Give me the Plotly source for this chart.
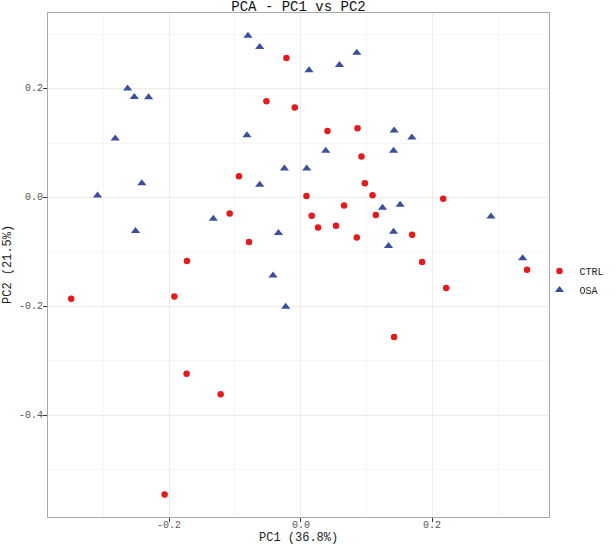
import plotly.graph_objects as go

# PC scores
ctrl_pc1 = [-0.0217, -0.0521, -0.0938, -0.1079, -0.0786, -0.1728, -0.0091, 0.0406,
            0.0862, 0.0922, 0.0973, 0.1090, 0.0087, 0.2163, 0.0658, 0.0167,
            0.1140, 0.0263, 0.0536, 0.0851, 0.1691, 0.1843, 0.3435, -0.3485,
            -0.1919, -0.1733, -0.1216, -0.2067, 0.2208, 0.1418]
ctrl_pc2 = [0.2566, 0.1770, 0.0393, -0.0294, -0.0819, -0.1168, 0.1653, 0.1225,
            0.1275, 0.0753, 0.0264, 0.0044, 0.0026, -0.0024, -0.0147, -0.0336,
            -0.0323, -0.0551, -0.0520, -0.0735, -0.0685, -0.1186, -0.1328, -0.1860,
            -0.1818, -0.3238, -0.3618, -0.5460, -0.1664, -0.2564]

osa_pc1 = [-0.0801, -0.0623, -0.2629, -0.2527, -0.2310, -0.2816, -0.0816, -0.0248,
           -0.2412, -0.0623, -0.3085, -0.1327, -0.2508, -0.0339, -0.0421, -0.0228,
           0.0851, 0.0126, 0.0588, 0.1418, 0.1687, 0.0380, 0.1409, 0.0091,
           0.1242, 0.1509, 0.2888, 0.1409, 0.1333, 0.3369]
osa_pc2 = [0.2975, 0.2768, 0.2002, 0.1849, 0.1844, 0.1084, 0.1146, 0.0533,
           0.0264, 0.0233, 0.0037, -0.0391, -0.0617, -0.0654, -0.1433, -0.2007,
           0.2663, 0.2340, 0.2437, 0.1230, 0.1102, 0.0858, 0.0858, 0.0533,
           -0.0189, -0.0134, -0.0349, -0.0630, -0.0893, -0.1117]

x_ticks = [-0.2, 0.0, 0.2]
x_ticktext = ["-0.2", "0.0", "0.2"]
y_ticks = [-0.4, -0.2, 0.0, 0.2]
y_ticktext = ["-0.4", "-0.2", "0.0", "0.2"]

mono = "Liberation Mono, Courier New, monospace"
tick_font = dict(family=mono, size=10, color="#555555")
title_font = dict(family=mono, size=12, color="#222222")

fig = go.Figure()

fig.add_trace(go.Scatter(
    x=ctrl_pc1, y=ctrl_pc2, mode="markers", name="CTRL",
    marker=dict(symbol="circle", size=6.5, color="#e41a1c"),
))
fig.add_trace(go.Scatter(
    x=osa_pc1, y=osa_pc2, mode="markers", name="OSA",
    marker=dict(symbol="triangle-up", size=8, color="#3a4fa0"),
))

axis_common = dict(
    showline=True, mirror=True, linecolor="#a8a8a8", linewidth=1.3,
    ticks="outside", ticklen=4, tickcolor="#333333", tickwidth=1,
    showgrid=True, gridcolor="#ececec", gridwidth=1,
    minor=dict(showgrid=True, gridcolor="#f6f6f6", gridwidth=1),
    zeroline=False, automargin=False, showticklabels=False,
)

fig.update_xaxes(range=[-0.3837, 0.3769], tickvals=x_ticks,
                 minor_tickvals=[-0.3, -0.1, 0.1, 0.3], **axis_common)
fig.update_yaxes(range=[-0.5873, 0.3392], tickvals=y_ticks,
                 minor_tickvals=[-0.5, -0.3, -0.1, 0.1, 0.3], **axis_common)

# tick labels as annotations, tucked close to the ticks like the ggplot original
for v, t in zip(x_ticks, x_ticktext):
    fig.add_annotation(text=t, x=v, xref="x", y=-0.0168, yref="paper",
                       xanchor="center", yanchor="middle", showarrow=False,
                       borderpad=0, font=tick_font)
for v, t in zip(y_ticks, y_ticktext):
    fig.add_annotation(text=t, x=-0.0075, xref="paper", y=v, yref="y",
                       xanchor="right", yanchor="middle", showarrow=False,
                       borderpad=0, font=tick_font)

# axis titles
fig.add_annotation(text="PC1 (36.8%)", xref="paper", yref="paper", x=0.5, y=-0.0575,
                   xanchor="center", yanchor="bottom", showarrow=False,
                   borderpad=0, font=title_font)
fig.add_annotation(text="PC2 (21.5%)", xref="paper", yref="paper", x=-0.0798, y=0.5,
                   xanchor="center", yanchor="middle", textangle=-90,
                   showarrow=False, borderpad=0, font=title_font)

fig.update_layout(
    width=616, height=546,
    margin=dict(l=48, r=67, t=13, b=29, autoexpand=False),
    plot_bgcolor="white", paper_bgcolor="white",
    title=dict(text="PCA - PC1 vs PC2", x=0.5, xref="paper", y=0.988,
               yref="container", yanchor="middle",
               font=dict(family=mono, size=14, color="#111111")),
    legend=dict(x=0.981, y=0.469, yanchor="middle", xanchor="left",
                bgcolor="rgba(0,0,0,0)",
                font=dict(family=mono, size=10, color="#222222"),
                itemwidth=30, tracegroupgap=2),
    showlegend=True,
)

fig.write_html("out.html", config={"displayModeBar": False},
               post_script="document.body.style.margin='0';")
